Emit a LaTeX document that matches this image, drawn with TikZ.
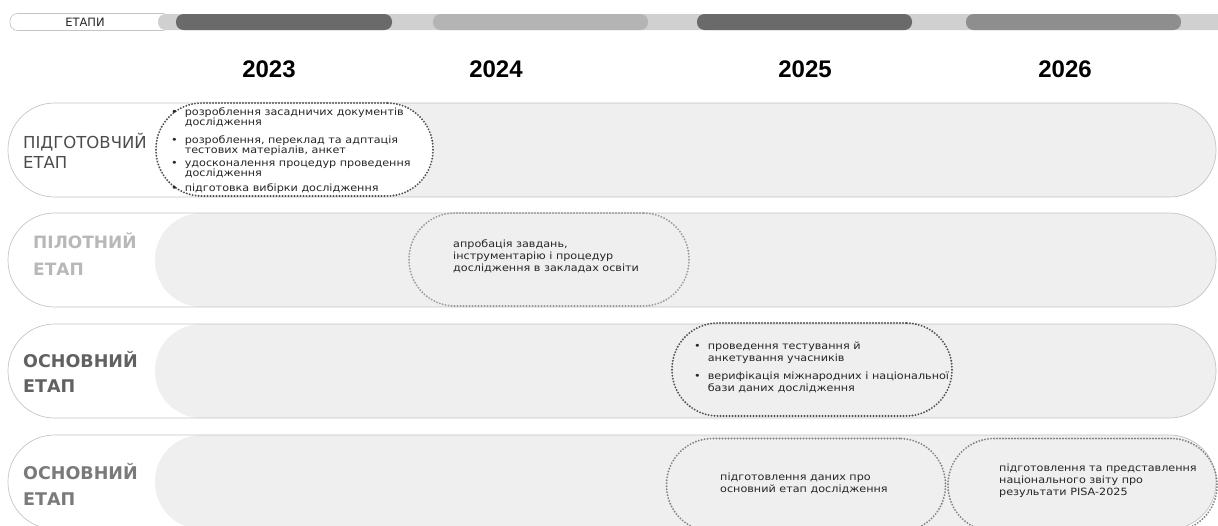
\documentclass[tikz,border=0pt]{standalone}
\usepackage{fontspec}
\setmainfont{DejaVu Sans}
\newfontfamily\bodyfont[FakeStretch=1.12]{DejaVu Sans}
\newfontfamily\yearfont{Liberation Sans}
\definecolor{rowgray}{HTML}{EFEFEF}
\definecolor{edgegray}{HTML}{C4C4C4}
\definecolor{barlight}{HTML}{D0D0D0}
\definecolor{pilldark}{HTML}{6A6A6A}
\definecolor{pillmid}{HTML}{8E8E8E}
\definecolor{pilllight}{HTML}{B4B4B4}
\definecolor{dotdark}{HTML}{505050}
\definecolor{dotlight}{HTML}{9C9C9C}
\definecolor{dotmid}{HTML}{848484}
\begin{document}
\begin{tikzpicture}[x=1pt, y=-1pt,
  rowbox/.style={draw=edgegray, line width=0.7pt, rounded corners=46.5pt, minimum width=1208pt, minimum height=94pt, inner sep=0pt},
  rowfill/.style={fill=rowgray, rounded corners=46.5pt, minimum width=1061pt, minimum height=94pt, inner sep=0pt},
  dotbox/.style={draw=#1, line width=2.1pt, dash pattern=on 0pt off 3pt, line cap=round, rounded corners=46pt, minimum height=93pt, inner sep=0pt},
  yearpill/.style={fill=#1, rounded corners=7.5pt, minimum height=16pt, inner sep=0pt},
  yeartext/.style={font=\yearfont\bfseries\fontsize{24}{24}\selectfont, text=black},
  stagelabel/.style={anchor=west, align=left, inner sep=0pt, text=#1},
  itemtext/.style={anchor=west, align=left, inner sep=0pt, text=black!85, font=\bodyfont\fontsize{10}{12}\selectfont}]
\useasboundingbox (0,0) rectangle (1218,525);
\clip (0,0) rectangle (1218,525);
\node[draw=edgegray, fill=white, line width=0.6pt, rounded corners=7.5pt, minimum width=160pt, minimum height=17pt, inner sep=0pt] (hd) at (90,22) {};
\node[yearpill=barlight, minimum width=1080pt] (bar) at (698,22) {};
\node[font=\fontsize{11.5}{11.5}\selectfont, text=black!85] (hdt) at (85,22) {ЕТАПИ};
\node[yearpill=pilldark, minimum width=216pt] (p23) at (284,22) {};
\node[yearpill=pilllight, minimum width=215pt] (p24) at (540.5,22) {};
\node[yearpill=pilldark, minimum width=215pt] (p25) at (804.5,22) {};
\node[yearpill=pillmid, minimum width=215pt] (p26) at (1073.5,22) {};
\node[yeartext] (y23) at (269,69) {2023};
\node[yeartext] (y24) at (496,69) {2024};
\node[yeartext] (y25) at (805,69) {2025};
\node[yeartext] (y26) at (1065,69) {2026};
\node[rowfill] (f1) at (685.5,150) {};
\node[rowbox] (r1) at (612,150) {};
\node[dotbox=dotdark, fill=white, minimum width=277pt] (e1) at (294.5,149.5) {};
\node[stagelabel=black!70, font=\fontsize{16.5}{20}\selectfont] (l1) at (23,151) {ПІДГОТОВЧИЙ\\ЕТАП};
\node[itemtext, font=\bodyfont\fontsize{10}{9}\selectfont] (t1) at (171,151) {\begin{tabular}{@{}l@{\hspace{7pt}}l@{}}
• & розроблення засадничих документів\\
  & дослідження\\[7pt]
• & розроблення, переклад та адптація\\
  & тестових матеріалів, анкет\\[4pt]
• & удосконалення процедур проведення\\
  & дослідження\\[4pt]
• & підготовка вибірки дослідження
\end{tabular}};
\node[rowfill] (f2) at (685.5,260) {};
\node[rowbox] (r2) at (612,260) {};
\node[dotbox=dotlight, minimum width=280pt] (e2) at (549,259.5) {};
\node[stagelabel=black!28, font=\bfseries\fontsize{17}{27}\selectfont] (l2) at (33,254) {ПІЛОТНИЙ\\ЕТАП};
\node[itemtext] (t2) at (453,256) {апробація завдань,\\інструментарію і процедур\\дослідження в закладах освіти};
\node[rowfill] (f3) at (685.5,371) {};
\node[rowbox] (r3) at (612,371) {};
\node[dotbox=dotdark, minimum width=280pt] (e3) at (812,369.5) {};
\node[stagelabel=black!62, font=\bfseries\fontsize{17.5}{25}\selectfont] (l3) at (23,372) {ОСНОВНИЙ\\ЕТАП};
\node[itemtext] (t3) at (694,368) {\begin{tabular}{@{}l@{\hspace{7pt}}l@{}}
• & проведення тестування й\\
  & анкетування учасників\\[6pt]
• & верифікація міжнародних і національної\\
  & бази даних дослідження
\end{tabular}};
\node[rowfill] (f4) at (685.5,482) {};
\node[rowbox] (r4) at (612,482) {};
\node[dotbox=dotmid, minimum width=279pt] (e4) at (806,485) {};
\node[dotbox=dotmid, minimum width=269pt] (e5) at (1082.5,485) {};
\node[stagelabel=black!52, font=\bfseries\fontsize{17.5}{26}\selectfont] (l4) at (23,484) {ОСНОВНИЙ\\ЕТАП};
\node[itemtext] (t4) at (720,483) {підготовлення даних про\\основний етап дослідження};
\node[itemtext] (t5) at (999,481) {підготовлення та представлення\\національного звіту про\\результати PISA-2025};
\end{tikzpicture}
\end{document}
